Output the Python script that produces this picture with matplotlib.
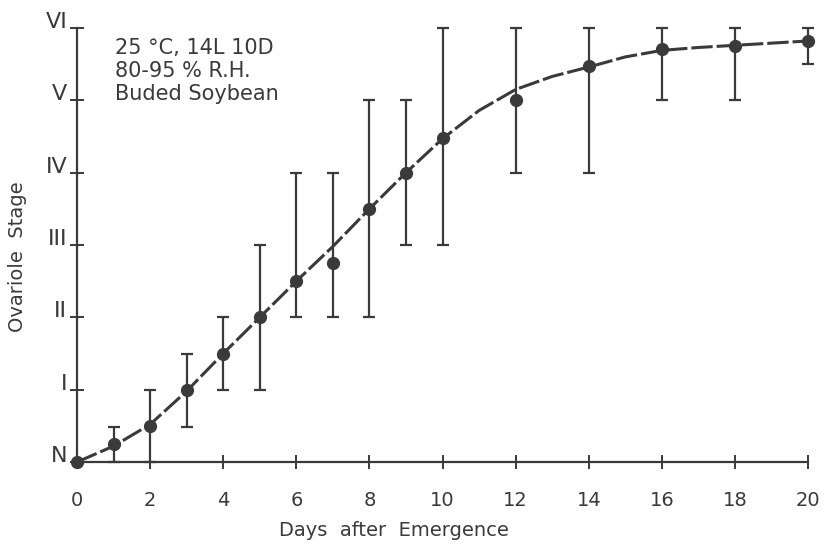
import matplotlib
matplotlib.use("Agg")
import matplotlib.pyplot as plt

# ovariole stage vs days after emergence
days = [0, 1, 2, 3, 4, 5, 6, 7, 8, 9, 10, 12, 14, 16, 18, 20]
stage = [0, 0.25, 0.5, 1.0, 1.5, 2.0, 2.5, 2.75, 3.5, 4.0, 4.48, 5.0, 5.47, 5.71, 5.75, 5.82]
bar_low = [0, 0, 0, 0.49, 1.0, 1.0, 2.0, 2.0, 2.0, 3.0, 3.0, 4.0, 4.0, 5.0, 5.0, 5.5]
bar_high = [0, 0.49, 1.0, 1.5, 2.0, 3.0, 4.0, 4.0, 5.0, 5.0, 6.0, 6.0, 6.0, 6.0, 6.0, 6.0]

# fitted curve as drawn in the figure
curve_days = list(range(0, 21))
curve_stage = [0, 0.22, 0.52, 0.98, 1.5, 2.0, 2.5, 2.98, 3.5, 4.0, 4.47,
               4.86, 5.15, 5.33, 5.46, 5.6, 5.69, 5.73, 5.76, 5.79, 5.82]

x_ticks = list(range(0, 21, 2))
stage_labels = ["N", "I", "II", "III", "IV", "V", "VI"]

ink = "#3a3a3a"

fig = plt.figure(figsize=(8.23, 5.46), dpi=100)
ax = fig.add_axes([0.0851, 0.1392, 0.9089, 0.8242])
ax.set_xlim(-0.19, 20.27)
ax.set_ylim(-0.11, 6.11)

ax.plot(curve_days, curve_stage, color=ink, lw=2.2, dashes=(7, 1.3), zorder=2)

err_lo = [s - l for s, l in zip(stage, bar_low)]
err_hi = [h - s for s, h in zip(stage, bar_high)]
ax.errorbar(days, stage, yerr=[err_lo, err_hi], fmt="o", color=ink,
            ms=8.5, ecolor=ink, elinewidth=1.6, capsize=4.5, capthick=1.6, zorder=3)

for side in ["top", "right"]:
    ax.spines[side].set_visible(False)
ax.spines["left"].set_position(("data", 0))
ax.spines["bottom"].set_position(("data", 0))
ax.spines["left"].set_bounds(0, 6)
ax.spines["bottom"].set_bounds(0, 20)
for side in ["left", "bottom"]:
    ax.spines[side].set_color(ink)
    ax.spines[side].set_linewidth(1.6)

ax.set_xticks(x_ticks)
ax.set_xticklabels([str(d) for d in x_ticks])
ax.set_yticks(range(7))
ax.set_yticklabels(stage_labels)
ax.tick_params(axis="x", direction="inout", length=10, width=1.4, color=ink,
               labelsize=14, labelcolor=ink, pad=16)
ax.tick_params(axis="y", direction="inout", length=10, width=1.4, color=ink,
               labelsize=16, labelcolor=ink, pad=2)
for lab in ax.get_yticklabels():
    lab.set_verticalalignment("baseline")

fig.text(394 / 823, 1 - 530 / 546, "Days  after  Emergence", ha="center", va="center",
         fontsize=14, color=ink)
fig.text(18 / 823, 1 - 257 / 546, "Ovariole  Stage", ha="center", va="center",
         rotation=90, fontsize=14, color=ink)

ax.text(115 / 823, 1 - 38 / 546, "25 °C, 14L 10D\n80-95 % R.H.\nBuded Soybean",
        transform=fig.transFigure, ha="left", va="top", fontsize=15, color=ink,
        linespacing=1.2)

fig.savefig("out.png", dpi=100)
